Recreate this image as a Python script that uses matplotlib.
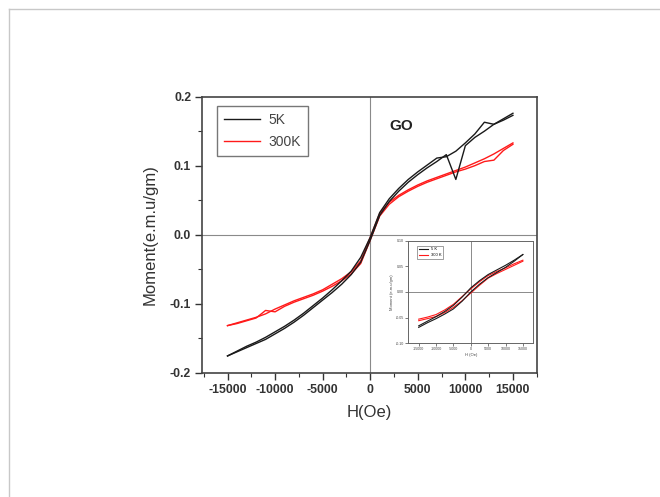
import matplotlib
matplotlib.use("Agg")
import matplotlib.pyplot as plt
from matplotlib.lines import Line2D
from matplotlib.ticker import MultipleLocator, FormatStrFormatter

plt.rcParams['font.family'] = ['Liberation Sans', 'DejaVu Sans']
plt.rcParams['axes.unicode_minus'] = False

# ---------------- data ----------------
H = [-15000, -14000, -13000, -12000, -11000, -10000, -9000, -8000, -7000, -6000,
     -5000, -4000, -3000, -2000, -1000, 0, 1000, 2000, 3000, 4000, 5000, 6000,
     7000, 8000, 9000, 10000, 11000, 12000, 13000, 14000, 15000]

m5k_down = [-0.176, -0.169, -0.162, -0.156, -0.149, -0.141, -0.133, -0.124, -0.114, -0.103,
            -0.092, -0.080, -0.067, -0.053, -0.033, -0.004, 0.032, 0.052, 0.067, 0.080,
            0.091, 0.101, 0.111, 0.113, 0.121, 0.133, 0.146, 0.163, 0.160, 0.168, 0.176]
m5k_up = [-0.176, -0.170, -0.164, -0.158, -0.152, -0.144, -0.136, -0.127, -0.117, -0.106,
          -0.095, -0.084, -0.072, -0.058, -0.040, -0.008, 0.028, 0.048, 0.063, 0.076,
          0.087, 0.097, 0.106, 0.116, 0.080, 0.129, 0.141, 0.150, 0.160, 0.166, 0.173]

m300k_down = [-0.132, -0.128, -0.124, -0.120, -0.115, -0.108, -0.102, -0.096, -0.091, -0.086,
              -0.080, -0.072, -0.064, -0.054, -0.038, -0.004, 0.031, 0.047, 0.057, 0.065,
              0.072, 0.078, 0.083, 0.088, 0.093, 0.098, 0.104, 0.110, 0.117, 0.125, 0.133]
m300k_up = [-0.132, -0.129, -0.125, -0.121, -0.110, -0.112, -0.104, -0.098, -0.093, -0.088,
            -0.082, -0.075, -0.067, -0.057, -0.042, -0.008, 0.027, 0.044, 0.055, 0.063,
            0.070, 0.076, 0.081, 0.086, 0.091, 0.095, 0.100, 0.106, 0.108, 0.122, 0.131]

H_inset = [-15000, -12500, -10000, -7500, -5000, -2500, 0, 2500, 5000, 7500, 10000, 12500, 15000]
i5k_up = [-0.069, -0.060, -0.052, -0.043, -0.033, -0.018, 0.000, 0.015, 0.028, 0.038, 0.048, 0.060, 0.073]
i5k_down = [-0.066, -0.057, -0.048, -0.038, -0.026, -0.010, 0.008, 0.022, 0.034, 0.043, 0.052, 0.062, 0.073]
i300k_up = [-0.056, -0.052, -0.048, -0.040, -0.030, -0.017, -0.002, 0.013, 0.027, 0.036, 0.044, 0.052, 0.060]
i300k_down = [-0.053, -0.049, -0.044, -0.035, -0.024, -0.009, 0.006, 0.020, 0.032, 0.040, 0.047, 0.055, 0.062]

labels = ['5K', '300K']
inset_labels = ['5 K', '300 K']
x_ticks = [-15000, -10000, -5000, 0, 5000, 10000, 15000]
y_ticks = [-0.2, -0.1, 0.0, 0.1, 0.2]
inset_y_ticks = [-0.10, -0.05, 0.00, 0.05, 0.10]

BLACK = '#1a1a1a'
RED = '#ff1a1a'

fig = plt.figure(figsize=(6.6, 4.97), dpi=100)

# light frame around the figure
fig.add_artist(Line2D([0.0136, 0.0136], [0.0, 0.982], color='#c8c8c8', lw=1.0, transform=fig.transFigure))
fig.add_artist(Line2D([0.0136, 1.0], [0.982, 0.982], color='#c8c8c8', lw=1.0, transform=fig.transFigure))

ax = fig.add_axes([0.3065, 0.2505, 0.5067, 0.5549])
ax.axhline(0, color='#8a8a8a', lw=0.8, zorder=1)
ax.axvline(0, color='#8a8a8a', lw=0.8, zorder=1)

ax.plot(H, m5k_down, color=BLACK, lw=1.0, label=labels[0], zorder=3)
ax.plot(H, m5k_up, color=BLACK, lw=1.0, zorder=3)
ax.plot(H, m300k_down, color=RED, lw=1.0, label=labels[1], zorder=2)
ax.plot(H, m300k_up, color=RED, lw=1.0, zorder=2)

ax.set_xlim(-17650, 17500)
ax.set_ylim(-0.2, 0.2)
ax.set_xticks(x_ticks)
ax.set_yticks(y_ticks)
ax.xaxis.set_minor_locator(MultipleLocator(2500))
ax.yaxis.set_minor_locator(MultipleLocator(0.05))
ax.yaxis.set_major_formatter(FormatStrFormatter('%.1f'))
ax.tick_params(which='major', direction='out', length=5, width=1.0, labelsize=8.8, colors='#333333', pad=3)
ax.tick_params(which='minor', direction='out', length=3, width=0.8, colors='#333333')
for lab in ax.get_xticklabels() + ax.get_yticklabels():
    lab.set_fontweight('bold')
for sp in ax.spines.values():
    sp.set_color('#444444')
    sp.set_linewidth(1.2)

ax.set_xlabel('H(Oe)', fontsize=12, color='#333333', labelpad=7)
ax.set_ylabel('Moment(e.m.u/gm)', fontsize=12, color='#333333', labelpad=9)

ax.text(0.558, 0.895, 'GO', transform=ax.transAxes, fontsize=11, fontweight='bold',
        color='#222222', va='center', ha='left')

leg = ax.legend(loc='upper left', bbox_to_anchor=(0.044, 0.967), borderaxespad=0,
                fontsize=10, handlelength=2.6, frameon=True, fancybox=False,
                edgecolor='#555555', borderpad=0.5, labelspacing=0.6, handletextpad=0.6)
leg.get_frame().set_linewidth(1.0)
for t in leg.get_texts():
    t.set_color('#444444')

# ---------------- inset ----------------
ins = fig.add_axes([0.6186, 0.3093, 0.1894, 0.2064])
ins.axhline(0, color='#777777', lw=0.6, zorder=1)
ins.axvline(0, color='#777777', lw=0.6, zorder=1)
ins.plot(H_inset, i5k_up, color=BLACK, lw=0.8, label=inset_labels[0], zorder=3)
ins.plot(H_inset, i5k_down, color=BLACK, lw=0.8, zorder=3)
ins.plot(H_inset, i300k_up, color=RED, lw=0.8, label=inset_labels[1], zorder=2)
ins.plot(H_inset, i300k_down, color=RED, lw=0.8, zorder=2)
ins.set_xlim(-18000, 18000)
ins.set_ylim(-0.1, 0.1)
ins.set_xticks(x_ticks)
ins.set_yticks(inset_y_ticks)
ins.yaxis.set_major_formatter(FormatStrFormatter('%.2f'))
ins.tick_params(direction='out', length=2, width=0.5, labelsize=2.6, pad=1, colors='#444444')
for sp in ins.spines.values():
    sp.set_color('#666666')
    sp.set_linewidth(0.7)
ins.set_xlabel('H (Oe)', fontsize=3, labelpad=1, color='#444444')
ins.set_ylabel('Moment (e.m.u/gm)', fontsize=3, labelpad=1, color='#444444')
ileg = ins.legend(loc='upper left', bbox_to_anchor=(0.07, 0.95), borderaxespad=0,
                  fontsize=3, handlelength=2.2, frameon=True, fancybox=False,
                  edgecolor='#555555', borderpad=0.4, labelspacing=0.4)
ileg.get_frame().set_linewidth(0.5)

fig.savefig('out.png', dpi=100)
